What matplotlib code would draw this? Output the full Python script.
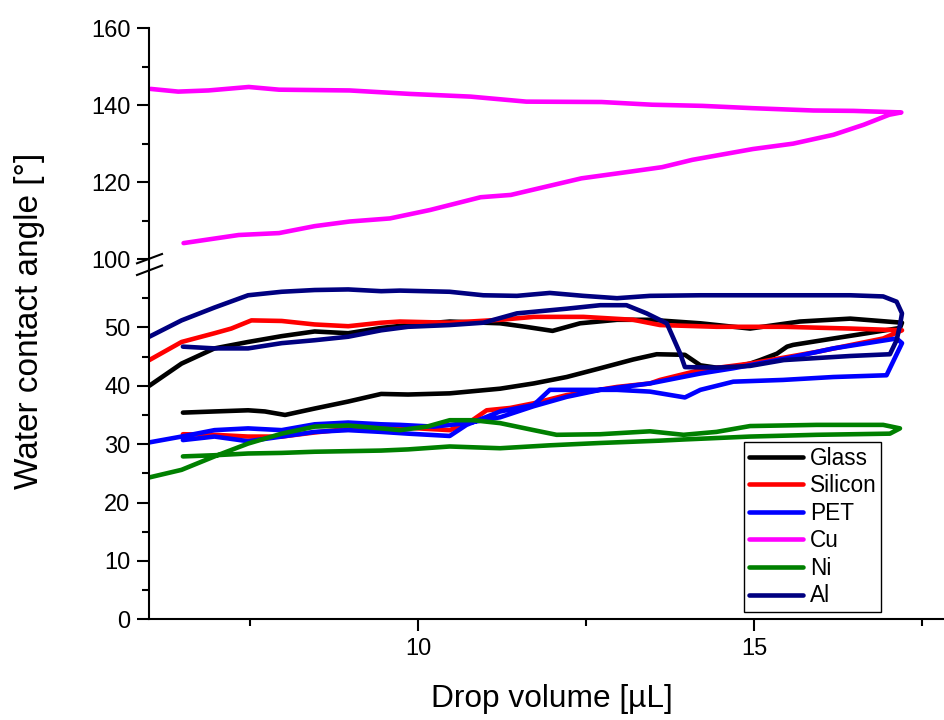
import matplotlib
matplotlib.use("Agg")
import matplotlib.pyplot as plt
from matplotlib.lines import Line2D
from matplotlib.ticker import FixedLocator

plt.rcParams['font.family'] = ['Liberation Sans', 'DejaVu Sans']

# ---------------- data ----------------
glass_x = [6.5, 6.97, 7.47, 7.72, 8.02, 8.46, 8.96, 9.45, 9.85, 10.47, 11.22, 11.72, 12.21, 12.71,
           13.2, 13.55, 13.97, 14.2, 14.44, 14.69, 14.94, 15.09, 15.34, 15.49, 15.58, 16.18, 16.68,
           17.17, 17.2, 16.43, 15.68, 14.94, 14.2, 13.45, 12.96, 12.41, 12.0, 11.6, 11.22, 10.47,
           9.85, 9.45, 8.96, 8.46, 7.97, 7.47, 6.97, 6.48, 6.0]
glass_y = [35.4, 35.6, 35.8, 35.6, 35.0, 36.1, 37.3, 38.6, 38.5, 38.7, 39.5, 40.4, 41.5, 43.0,
           44.5, 45.4, 45.3, 43.5, 43.1, 43.2, 43.8, 44.4, 45.5, 46.7, 47.0, 48.1, 49.0,
           49.9, 50.8, 51.5, 51.0, 49.8, 50.7, 51.3, 51.3, 50.7, 49.4, 50.1, 50.7, 51.0,
           50.4, 49.9, 49.0, 49.3, 48.5, 47.5, 46.4, 43.8, 40.0]

silicon_x = [6.5, 6.97, 7.47, 7.97, 8.46, 8.96, 9.45, 9.85, 10.47, 10.77, 11.02, 11.37, 11.72, 12.21,
             12.96, 13.45, 13.6, 14.2, 14.94, 15.93, 16.92, 17.2, 16.43, 15.44, 14.44, 13.6, 13.2,
             12.46, 11.72, 11.22, 10.47, 9.73, 9.45, 8.96, 8.46, 7.97, 7.52, 7.22, 6.97, 6.48, 6.0]
silicon_y = [31.7, 31.6, 31.3, 31.3, 32.0, 32.6, 32.8, 32.8, 32.4, 33.8, 35.8, 36.2, 37.0, 38.4,
             39.8, 40.4, 41.0, 42.7, 43.8, 45.8, 48.1, 49.5, 49.8, 50.1, 50.1, 50.4, 51.3,
             51.8, 51.8, 51.3, 50.8, 51.0, 50.8, 50.2, 50.5, 51.1, 51.2, 49.8, 49.0, 47.5, 44.4]

pet_x = [6.5, 6.97, 7.47, 7.97, 8.46, 8.96, 9.45, 9.85, 10.47, 10.72, 11.22, 11.72, 11.96, 12.46,
         12.96, 13.45, 13.97, 14.2, 14.69, 15.43, 16.18, 16.97, 17.2, 17.12, 16.18, 15.49, 14.69,
         14.2, 13.45, 12.71, 12.21, 11.72, 11.22, 10.72, 10.23, 9.73, 9.45, 8.96, 8.46, 7.97,
         7.47, 6.97, 6.48, 6.0]
pet_y = [30.7, 31.3, 30.5, 31.3, 32.1, 32.4, 32.1, 31.8, 31.4, 33.3, 35.6, 36.7, 39.3, 39.3,
         39.3, 39.0, 38.0, 39.3, 40.7, 41.0, 41.5, 41.8, 47.3, 48.1, 46.4, 44.7, 43.0,
         42.1, 40.4, 39.3, 38.1, 36.5, 34.6, 33.6, 33.0, 33.3, 33.4, 33.7, 33.4, 32.4,
         32.7, 32.4, 31.3, 30.3]

cu_x = [6.51, 7.33, 7.93, 8.46, 8.98, 9.58, 10.18, 10.93, 11.38, 12.43, 13.18, 13.63, 14.08, 14.98,
        15.58, 16.18, 16.63, 17.01, 17.19, 16.48, 15.88, 14.98, 14.23, 13.48, 12.73, 11.61, 10.78,
        9.88, 8.98, 7.93, 7.48, 6.88, 6.43, 6.02]
cu_y = [104.2, 106.3, 106.8, 108.6, 109.8, 110.6, 112.8, 116.1, 116.7, 121.0, 122.8, 123.9, 125.8,
        128.6, 130.0, 132.3, 134.9, 137.5, 138.1, 138.5, 138.6, 139.2, 139.8, 140.1, 140.8, 140.9,
        142.2, 142.9, 143.8, 144.0, 144.7, 143.8, 143.5, 144.2]

ni_x = [6.5, 6.97, 7.47, 7.97, 8.46, 8.96, 9.45, 9.85, 10.47, 11.22, 11.96, 12.71, 13.6, 13.95,
        14.94, 15.93, 17.02, 17.17, 16.92, 15.93, 14.94, 14.44, 13.95, 13.45, 12.71, 12.06, 11.72,
        11.22, 10.82, 10.47, 10.13, 9.73, 9.45, 8.96, 8.46, 7.97, 7.47, 6.97, 6.48, 6.0]
ni_y = [27.9, 28.1, 28.4, 28.5, 28.7, 28.8, 28.9, 29.1, 29.6, 29.3, 29.8, 30.2, 30.6, 30.8,
        31.3, 31.6, 31.8, 32.7, 33.3, 33.3, 33.1, 32.1, 31.6, 32.2, 31.7, 31.6, 32.4,
        33.6, 34.1, 34.1, 33.0, 32.4, 32.7, 33.2, 33.0, 31.8, 30.1, 27.9, 25.6, 24.3]

al_x = [6.5, 6.97, 7.47, 7.97, 8.46, 8.96, 9.45, 9.85, 10.47, 10.97, 11.47, 12.21, 12.71, 13.1,
        13.4, 13.7, 13.9, 13.97, 14.44, 14.94, 15.44, 16.43, 17.02, 17.12, 17.17, 17.2, 17.12,
        16.92, 16.43, 15.44, 14.2, 13.45, 12.96, 12.46, 11.96, 11.47, 10.97, 10.47, 9.73, 9.45,
        8.96, 8.46, 7.97, 7.47, 6.97, 6.48, 6.0]
al_y = [46.7, 46.4, 46.4, 47.3, 47.8, 48.4, 49.5, 50.1, 50.4, 50.8, 52.4, 53.2, 53.8, 53.8,
        52.4, 50.7, 45.5, 43.2, 43.1, 43.4, 44.4, 45.1, 45.4, 47.8, 50.4, 52.4, 54.4,
        55.3, 55.5, 55.5, 55.5, 55.4, 55.0, 55.4, 55.9, 55.4, 55.5, 56.1, 56.3, 56.2,
        56.5, 56.4, 56.1, 55.5, 53.4, 51.2, 48.4]

series_names = ['Glass', 'Silicon', 'PET', 'Cu', 'Ni', 'Al']
series_colors = ['#000000', '#FF0000', '#0000FF', '#FF00FF', '#008000', '#000080']
series_data = [(glass_x, glass_y), (silicon_x, silicon_y), (pet_x, pet_y),
               (cu_x, cu_y), (ni_x, ni_y), (al_x, al_y)]

x_major = [10, 15]
x_minor = [7.5, 12.5, 17.5]
ylow_major = [0, 10, 20, 30, 40, 50]
ylow_minor = [5, 15, 25, 35, 45, 55]
yup_major = [100, 120, 140, 160]
yup_minor = [110, 130, 150]

# ---------------- figure ----------------
W, H = 945, 720
fig = plt.figure(figsize=(W / 100, H / 100), dpi=100)
fig.patch.set_facecolor('white')

L = 149.3 / W
R = 1.0
top_y0, top_y1 = 259.3, 28.0
bot_y0, bot_y1 = 619.3, 269.0
ax_top = fig.add_axes([L, 1 - top_y0 / H, R - L, (top_y0 - top_y1) / H])
ax_bot = fig.add_axes([L, 1 - bot_y0 / H, R - L, (bot_y0 - bot_y1) / H])

lw = 3.3
handles = []
for name, color, (xs, ys) in zip(series_names, series_colors, series_data):
    ax = ax_top if name == 'Cu' else ax_bot
    ax.plot(xs, ys, color=color, lw=lw, solid_joinstyle='round', solid_capstyle='round')
    handles.append(Line2D([], [], color=color, lw=lw, solid_capstyle='round'))

for ax in (ax_top, ax_bot):
    ax.set_xlim(6, 17.84)
    ax.spines['top'].set_visible(False)
    ax.spines['right'].set_visible(False)
    for s in ('left', 'bottom'):
        ax.spines[s].set_linewidth(1.5)
    ax.tick_params(axis='both', which='major', direction='out', length=8.5, width=1.5,
                   labelsize=17, pad=5, colors='black')
    ax.tick_params(axis='both', which='minor', direction='out', length=5, width=1.5)
    ax.set_facecolor('none')

ax_bot.set_ylim(0, 60)
ax_top.set_ylim(100, 160)

ax_bot.xaxis.set_major_locator(FixedLocator(x_major))
ax_bot.xaxis.set_minor_locator(FixedLocator(x_minor))
ax_bot.yaxis.set_major_locator(FixedLocator(ylow_major))
ax_bot.yaxis.set_minor_locator(FixedLocator(ylow_minor))
ax_top.yaxis.set_major_locator(FixedLocator(yup_major))
ax_top.yaxis.set_minor_locator(FixedLocator(yup_minor))

ax_top.spines['bottom'].set_visible(False)
ax_top.tick_params(axis='x', which='both', bottom=False, labelbottom=False)

# connect spines through the break and draw break marks
def px(x, y):
    return (x / W, 1 - y / H)

fig.add_artist(Line2D([L, L], [1 - top_y0 / H, 1 - bot_y1 / H], color='black', lw=1.5,
                      transform=fig.transFigure))
for (x0, y0, x1, y1) in [(137, 263.3, 162, 254.0), (137, 275.0, 162, 265.5)]:
    a = px(x0, y0); b = px(x1, y1)
    fig.add_artist(Line2D([a[0], b[0]], [a[1], b[1]], color='black', lw=1.5,
                          transform=fig.transFigure))

# labels
fig.text(30 / W, 1 - 321 / H, 'Water contact angle [°]', rotation=90, ha='center', va='center',
         fontsize=24)
fig.text(552 / W, 1 - 699 / H, 'Drop volume [µL]', ha='center', va='center', fontsize=22.8)

# legend
leg = ax_bot.legend(handles, series_names, loc='lower left',
                    bbox_to_anchor=(744 / W, 1 - 612 / H), bbox_transform=fig.transFigure,
                    fontsize=16.3, frameon=True, fancybox=False, framealpha=1,
                    edgecolor='black', handlelength=2.4, handletextpad=0.3,
                    labelspacing=0.2, borderpad=0.2, borderaxespad=0)
leg.get_frame().set_linewidth(1.0)

fig.savefig('out.png', dpi=100)
